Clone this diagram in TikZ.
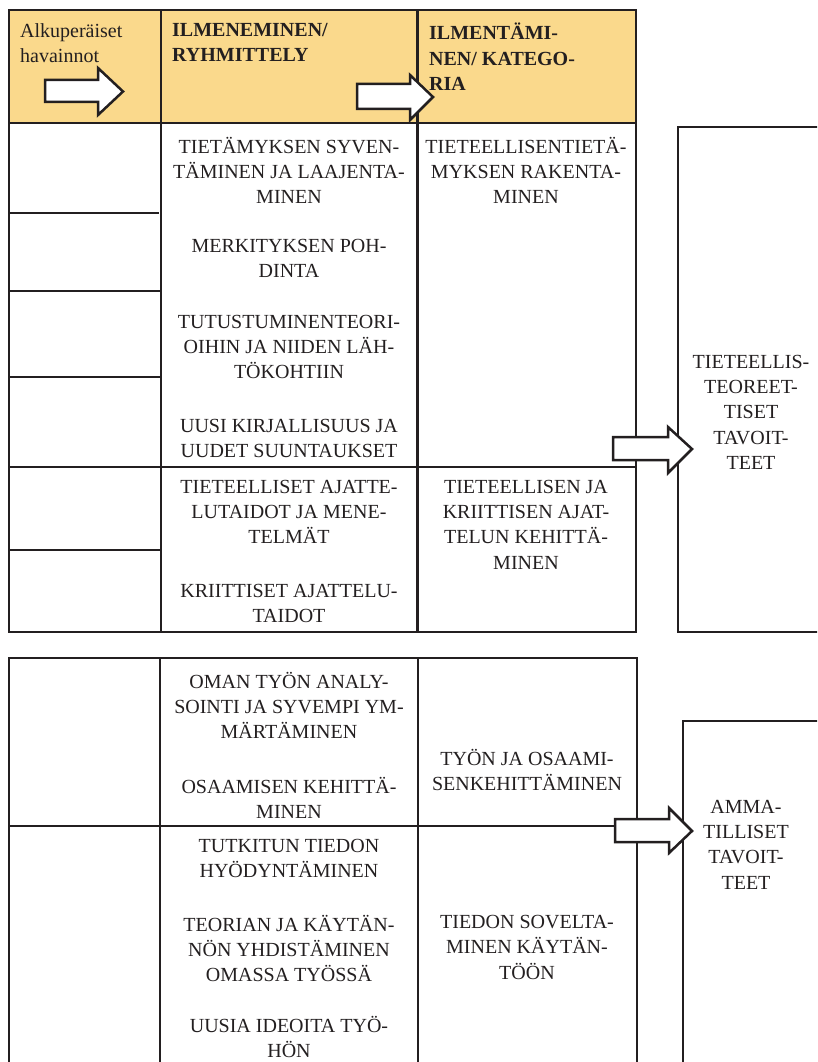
\documentclass[tikz,border=0pt]{standalone}
\usepackage{fontspec}
\setmainfont{Liberation Serif}
\definecolor{ink}{HTML}{231F20}
\definecolor{headfill}{RGB}{250,217,140}

% Block arrow: tail at x0, body between y1 and y2, head base at xb spanning hy1..hy2, tip at (tx,ty)
\newcommand{\blockarrow}[8]{%
  \draw[blockarrow] (#1,#2) -- (#3,#2) -- (#3,#4) -- (#5,#6) -- (#3,#7) -- (#3,#8) -- (#1,#8) -- cycle;}

\begin{document}
\begin{tikzpicture}[x=1pt,y=-1pt,
  rule/.style={draw=ink,line width=2.5pt,line cap=rect},
  cell/.style={font=\fontsize{20}{25.2}\selectfont, text=ink, align=center,
    inner sep=0pt, anchor=north, yshift=-5pt,
    execute at begin node=\strut, execute at end node=\strut},
  headtxt/.style={cell, align=left, anchor=north west},
  headbold/.style={headtxt, font=\fontsize{20}{25.2}\selectfont\bfseries},
  blockarrow/.style={draw=ink, line width=2.5pt, fill=white, line join=miter}]

\useasboundingbox (0,0) rectangle (817,1062);
\clip (0,0) rectangle (817,1062);

% ---------- upper table ----------
\fill[headfill] (9,10) rectangle (636,123);
\draw[rule] (9,10) rectangle (636,632);
\draw[rule] (9,123) -- (636,123);
\draw[rule] (161,10) -- (161,632);
\draw[rule] (417.5,10) -- (417.5,632);
\draw[rule] (9,467) -- (636,467);
\draw[rule] (9,213) -- (158,213);
\draw[rule] (9,291) -- (160,291);
\draw[rule] (9,377) -- (160,377);
\draw[rule] (9,550) -- (160,550);

% goal box, upper
\draw[rule] (840,127) -- (678,127) -- (678,632) -- (840,632);

% ---------- lower table ----------
\draw[rule] (9,1080) -- (9,658) -- (637,658) -- (637,1080);
\draw[rule] (160,658) -- (160,1080);
\draw[rule] (418,658) -- (418,1080);
\draw[rule] (9,826) -- (637,826);

% goal box, lower
\draw[rule] (840,721) -- (683,721) -- (683,1080);

% ---------- header texts ----------
\node[headtxt]  (obs) at (20,18.15)  {Alkuperäiset\\havainnot};
\node[headbold] (grp) at (172,18.15) {ILMENEMINEN/\\RYHMITTELY};
\node[headbold] (cat) at (429,18.15) {ILMENTÄMI-\\NEN/ KATEGO-\\RIA};

% ---------- upper table texts ----------
\node[cell] (g1) at (289,132.15) {TIETÄMYKSEN SYVEN-\\TÄMINEN JA LAAJENTA-\\MINEN};
\node[cell] (g2) at (289,234.15) {MERKITYKSEN POH-\\DINTA};
\node[cell] (g3) at (289,310.15) {TUTUSTUMINENTEORI-\\OIHIN JA NIIDEN LÄH-\\TÖKOHTIIN};
\node[cell] (g4) at (289,414.15) {UUSI KIRJALLISUUS JA\\UUDET SUUNTAUKSET};
\node[cell] (g5) at (289,475.15) {TIETEELLISET AJATTE-\\LUTAIDOT JA MENE-\\TELMÄT};
\node[cell] (g6) at (289,579.15) {KRIITTISET AJATTELU-\\TAIDOT};

\node[cell] (c1) at (526,132.15) {TIETEELLISENTIETÄ-\\MYKSEN RAKENTA-\\MINEN};
\node[cell] (c2) at (526,475.15) {TIETEELLISEN JA\\KRIITTISEN AJAT-\\TELUN KEHITTÄ-\\MINEN};

\node[cell] (goal1) at (751,350.15) {TIETEELLIS-\\TEOREET-\\TISET\\TAVOIT-\\TEET};

% ---------- lower table texts ----------
\node[cell] (g7)  at (289,667.15) {OMAN TYÖN ANALY-\\SOINTI JA SYVEMPI YM-\\MÄRTÄMINEN};
\node[cell] (g8)  at (289,772.15) {OSAAMISEN KEHITTÄ-\\MINEN};
\node[cell] (g9)  at (289,834.15) {TUTKITUN TIEDON\\HYÖDYNTÄMINEN};
\node[cell] (g10) at (289,910.15) {TEORIAN JA KÄYTÄN-\\NÖN YHDISTÄMINEN\\OMASSA TYÖSSÄ};
\node[cell] (g11) at (289,1011) {UUSIA IDEOITA TYÖ-\\HÖN};

\node[cell] (c3) at (527,744.15) {TYÖN JA OSAAMI-\\SENKEHITTÄMINEN};
\node[cell] (c4) at (527,910.15) {TIEDON SOVELTA-\\MINEN KÄYTÄN-\\TÖÖN};

\node[cell] (goal2) at (746,795.15) {AMMA-\\TILLISET\\TAVOIT-\\TEET};

% ---------- block arrows ----------
\blockarrow{45}{80}{98}{68}{123}{91.5}{115}{102}
\blockarrow{357}{84}{410}{75}{433}{97}{120}{109}
\blockarrow{613}{437}{668}{427}{692}{449}{473}{460}
\blockarrow{615}{819}{669}{808}{692}{831}{853}{842}

\end{tikzpicture}
\end{document}
